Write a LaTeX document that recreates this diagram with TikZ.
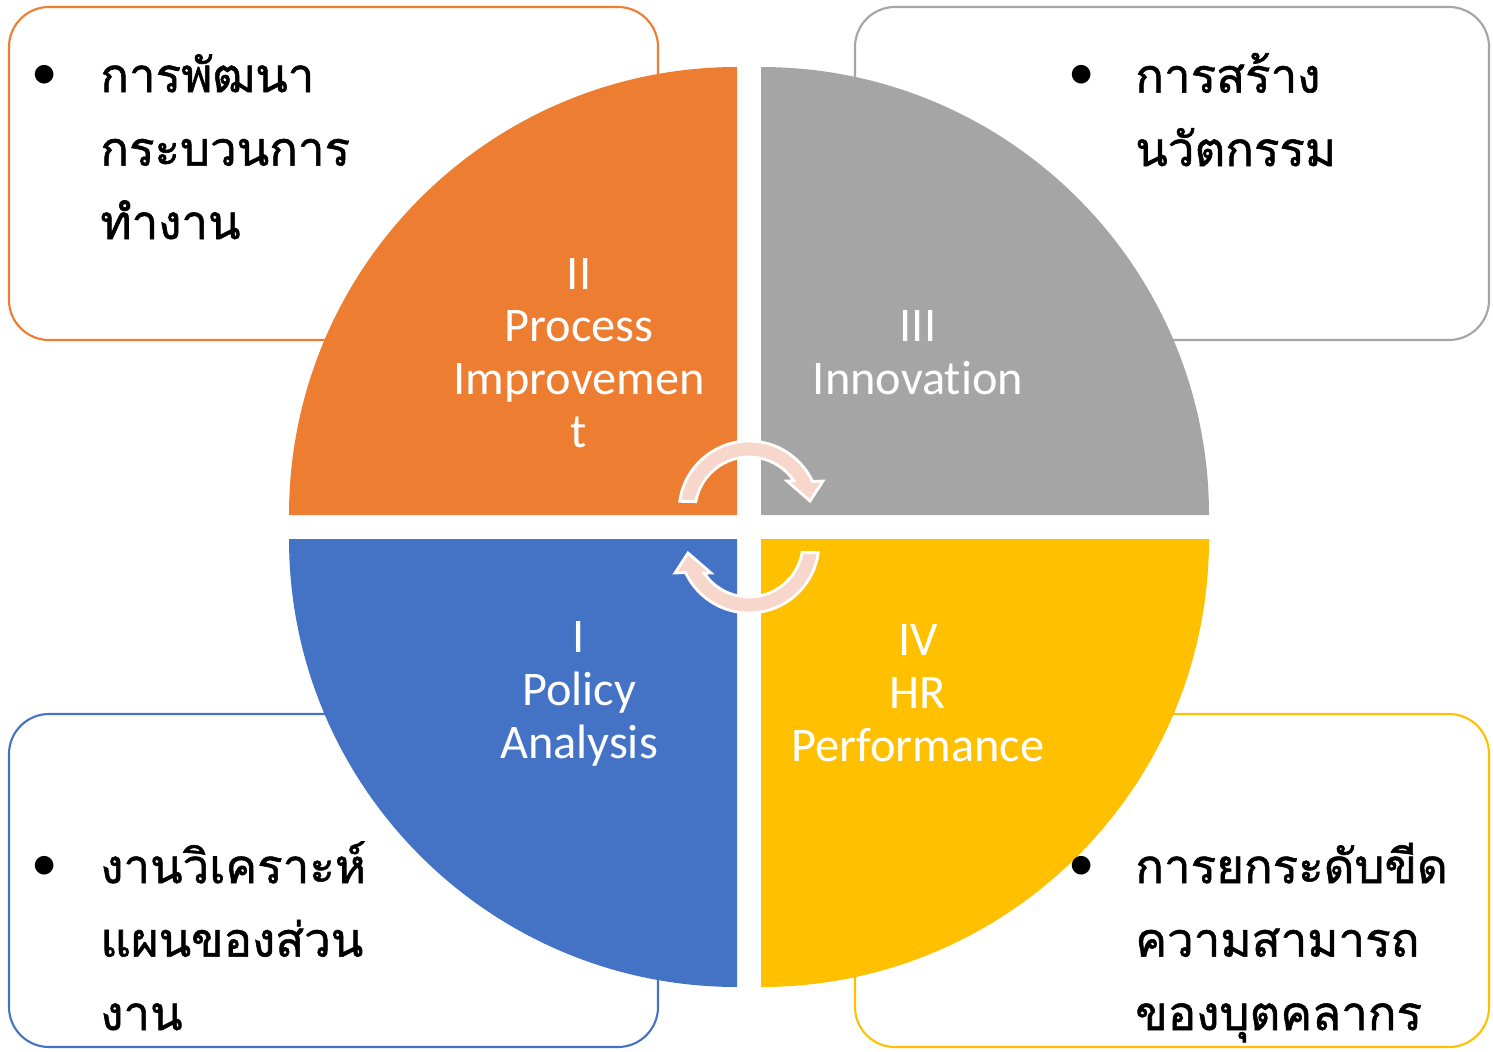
\documentclass[tikz,border=0pt]{standalone}
\usepackage{fontspec}
\setmainfont{Carlito}[Ligatures=NoCommon]
\newfontfamily\thaifont[Script=Thai, FakeBold=1.2]{Loma}

\definecolor{qorange}{HTML}{ED7D31}
\definecolor{qgray}{HTML}{A5A5A5}
\definecolor{qblue}{HTML}{4472C4}
\definecolor{qyellow}{HTML}{FFC000}
\definecolor{cyclepink}{HTML}{F7D7CC}

\tikzset{
  infobox/.style={draw=#1, line width=1.2pt, fill=white, rounded corners=0.8cm},
  thailines/.style={font=\thaifont\fontsize{27}{41.8}\selectfont, align=left, anchor=base west, inner sep=0pt},
  bulletmark/.style={font=\fontsize{30}{30}\selectfont, inner sep=0pt},
  quadlabel/.style={text=white, font=\fontsize{27.5}{30}\selectfont, align=center, inner sep=0pt},
  cyclearrow/.style={fill=cyclepink, draw=white, line width=1.6pt, line join=miter},
}

\begin{document}
\begin{tikzpicture}[x=0.02cm, y=-0.02cm]
    \useasboundingbox (0,0) rectangle (1493,1051);
%%   side boxes
    \draw[infobox=qorange] (9,7) rectangle (658,340);
    \draw[infobox=qgray] (855,7) rectangle (1489,340);
    \draw[infobox=qblue] (9,714) rectangle (658,1047);
    \draw[infobox=qyellow] (855,714) rectangle (1489,1047);
%%   quarters of the circle
    \fill[qorange] (737,515) -- (289,515) arc[start angle=180, end angle=270, radius=448] -- cycle;
    \fill[qgray] (761,515) -- (761,67) arc[start angle=270, end angle=360, radius=448] -- cycle;
    \fill[qyellow] (761,539) -- (1209,539) arc[start angle=0, end angle=90, radius=448] -- cycle;
    \fill[qblue] (737,539) -- (737,987) arc[start angle=90, end angle=180, radius=448] -- cycle;
%%   round arrows
    \foreach \r in {0,180}
        \filldraw[cyclearrow, rotate around={\r:(749,527)}] (679.7,501.3)
            arc[start angle=188, end angle=335, radius=70] -- (823,481) -- (810,501) -- (787,481)
            -- (793.8,480.8) arc[start angle=326, end angle=190, radius=54] -- cycle;
%%   quarter labels
    \node[quadlabel] (process) at (579,353) {II\\Process\\Improvemen\\t};
    \node[quadlabel] (innov) at (918,353) {III\\Innovation};
    \node[quadlabel] (policy) at (579,694) {I\\Policy\\Analysis};
    \node[quadlabel] (hrperf) at (918,693) {IV\\HR\\Performance};
%%   box texts (base = last line)
    \node[bulletmark] (b1) at (45,77) {•};
    \node[thailines] (t1) at (100,239) {การพัฒนา\\กระบวนการ\\ทำงาน};
    \node[bulletmark] (b2) at (1082,77) {•};
    \node[thailines] (t2) at (1135,166) {การสร้าง\\นวัตกรรม};
    \node[bulletmark] (b3) at (45,868) {•};
    \node[thailines] (t3) at (100,1030) {งานวิเคราะห์\\แผนของส่วน\\งาน};
    \node[bulletmark] (b4) at (1082,868) {•};
    \node[thailines] (t4) at (1135,1030) {การยกระดับขีด\\ความสามารถ\\ของบุตคลากร};
\end{tikzpicture}
\end{document}
